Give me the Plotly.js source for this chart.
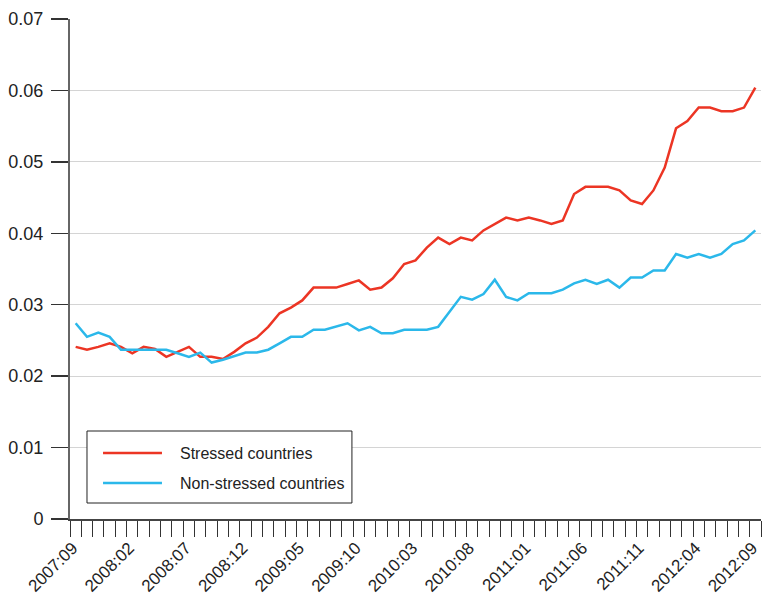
<!DOCTYPE html>
<html>
<head>
<meta charset="utf-8">
<script src="https://cdn.plot.ly/plotly-3.0.1.min.js"></script>
<style>html,body{margin:0;padding:0;background:#fff;}#chart{width:762px;height:602px;}</style>
</head>
<body>
<div id="chart"></div>
<script>
var months = [
 "2007:09","2007:10","2007:11","2007:12",
 "2008:01","2008:02","2008:03","2008:04","2008:05","2008:06","2008:07","2008:08","2008:09","2008:10","2008:11","2008:12",
 "2009:01","2009:02","2009:03","2009:04","2009:05","2009:06","2009:07","2009:08","2009:09","2009:10","2009:11","2009:12",
 "2010:01","2010:02","2010:03","2010:04","2010:05","2010:06","2010:07","2010:08","2010:09","2010:10","2010:11","2010:12",
 "2011:01","2011:02","2011:03","2011:04","2011:05","2011:06","2011:07","2011:08","2011:09","2011:10","2011:11","2011:12",
 "2012:01","2012:02","2012:03","2012:04","2012:05","2012:06","2012:07","2012:08","2012:09"
];
var stressed = [
 0.0241,0.0237,0.0241,0.0246,0.0241,0.0232,0.0241,0.0238,0.0227,0.0234,
 0.0241,0.0227,0.0227,0.0224,0.0234,0.0246,0.0254,0.0269,0.0288,0.0296,
 0.0306,0.0324,0.0324,0.0324,0.0329,0.0334,0.0321,0.0324,0.0337,0.0357,
 0.0362,0.0380,0.0394,0.0385,0.0394,0.0390,0.0404,0.0413,0.0422,0.0418,
 0.0422,0.0418,0.0413,0.0418,0.0455,0.0465,0.0465,0.0465,0.0460,0.0446,
 0.0441,0.0460,0.0492,0.0547,0.0557,0.0576,0.0576,0.0571,0.0571,0.0576,
 0.0604
];
var nonStressed = [
 0.0274,0.0255,0.0261,0.0255,0.0237,0.0237,0.0237,0.0237,0.0237,0.0232,
 0.0227,0.0233,0.0219,0.0223,0.0228,0.0233,0.0233,0.0237,0.0246,0.0255,
 0.0255,0.0265,0.0265,0.0269,0.0274,0.0264,0.0269,0.0260,0.0260,0.0265,
 0.0265,0.0265,0.0269,0.0290,0.0311,0.0307,0.0315,0.0335,0.0311,0.0306,
 0.0316,0.0316,0.0316,0.0321,0.0330,0.0335,0.0329,0.0335,0.0324,0.0338,
 0.0338,0.0348,0.0348,0.0371,0.0366,0.0371,0.0366,0.0371,0.0385,0.0390,
 0.0404
];
var labeledTicks = ["2007:09","2008:02","2008:07","2008:12","2009:05","2009:10","2010:03","2010:08","2011:01","2011:06","2011:11","2012:04","2012:09"];
var seriesNames = ["Stressed countries","Non-stressed countries"];
var seriesColors = ["#ec3524","#2bb8ea"];

var tickText = months.map(function(m){ return labeledTicks.indexOf(m) >= 0 ? m : ""; });
var FONT = "Liberation Sans, Arial, Helvetica, sans-serif";

var traces = [
 {x: months, y: stressed, type: "scatter", mode: "lines", name: seriesNames[0],
  line: {color: seriesColors[0], width: 2.5}, showlegend: false},
 {x: months, y: nonStressed, type: "scatter", mode: "lines", name: seriesNames[1],
  line: {color: seriesColors[1], width: 2.5}, showlegend: false}
];

// custom legend box (paper coordinates)
var lx0 = 0.0246, lx1 = 0.408, ly0 = 0.032, ly1 = 0.176;
var rowY = [0.132, 0.072];
var shapes = [
 {type: "rect", xref: "paper", yref: "paper", x0: lx0, x1: lx1, y0: ly0, y1: ly1,
  line: {color: "#222", width: 1}, fillcolor: "#fff", layer: "above"}
];
var annotations = [];
for (var k = 0; k < 2; k++) {
 shapes.push({type: "line", xref: "paper", yref: "paper", x0: 0.0478, x1: 0.1331, y0: rowY[k], y1: rowY[k],
  line: {color: seriesColors[k], width: 2.5}, layer: "above"});
 annotations.push({xref: "paper", yref: "paper", x: 0.1563, y: rowY[k], xanchor: "left", yanchor: "middle",
  text: seriesNames[k], showarrow: false, font: {family: FONT, size: 16, color: "#222"}});
}

var layout = {
 width: 762, height: 602,
 margin: {l: 70, r: 1, t: 19, b: 83},
 paper_bgcolor: "#fff", plot_bgcolor: "#fff",
 font: {family: FONT, size: 18, color: "#222"},
 showlegend: false,
 xaxis: {
  type: "category", range: [-0.5, 60.5],
  tickmode: "array", tickvals: months, ticktext: tickText,
  tickson: "boundaries", ticks: "outside", ticklen: 16, tickwidth: 1, tickcolor: "#333",
  tickangle: -45, showgrid: false, zeroline: false,
  showline: true, linecolor: "#444", linewidth: 1.5,
  ticklabelstandoff: 11, ticklabelshift: -3,
  tickfont: {family: FONT, size: 17, color: "#222"}
 },
 yaxis: {
  range: [0, 0.07], dtick: 0.01, tick0: 0,
  ticks: "outside", ticklen: 17, tickwidth: 1.5, tickcolor: "#333",
  showgrid: true, gridcolor: "#d4d4d4", gridwidth: 1.2,
  zeroline: false, showline: true, linecolor: "#666", linewidth: 2,
  ticklabelstandoff: 4,
  tickfont: {family: FONT, size: 18, color: "#222"}
 },
 shapes: shapes,
 annotations: annotations
};

Plotly.newPlot("chart", traces, layout, {displayModeBar: false, staticPlot: true});
</script>
</body>
</html>
